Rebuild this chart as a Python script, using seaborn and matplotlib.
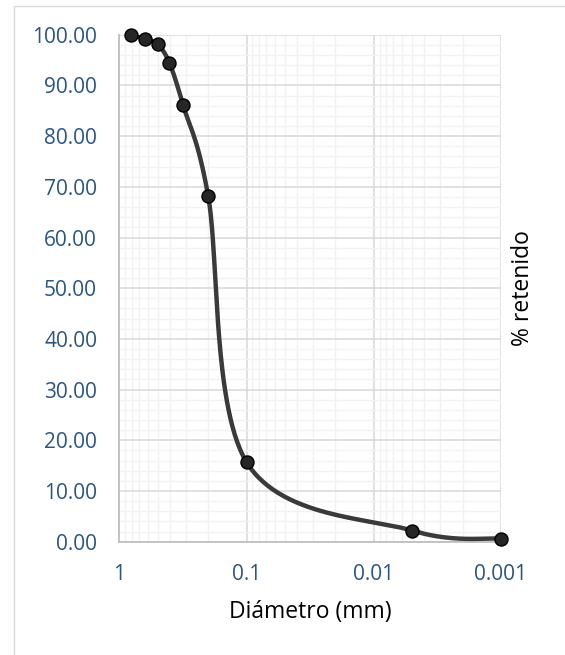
import numpy as np
import pandas as pd
import matplotlib
matplotlib.use("Agg")
import matplotlib.pyplot as plt
import matplotlib.ticker as mticker
from matplotlib.patches import Rectangle
import seaborn as sns

# ---- data ----
diametro = [0.805, 0.63, 0.5, 0.405, 0.315, 0.2, 0.1, 0.005, 0.001]
retenido = [100.0, 99.2, 98.1, 94.5, 86.1, 68.1, 15.7, 2.2, 0.6]
x_ticks = [1, 0.1, 0.01, 0.001]
x_ticklabels = ["1", "0.1", "0.01", "0.001"]
y_ticks = [0, 10, 20, 30, 40, 50, 60, 70, 80, 90, 100]
x_title = "Diámetro (mm)"
y_title = "% retenido"

df = pd.DataFrame({"d": diametro, "r": retenido})

sns.set_theme(style="white")
plt.rcParams["font.family"] = ["Open Sans", "DejaVu Sans"]

W, H = 565, 655
fig = plt.figure(figsize=(W / 100, H / 100), dpi=100)
fig.patch.set_facecolor("white")

# outer chart-area border
fig.patches.append(Rectangle((13.5 / W, -0.02), 1.2, (H - 5.5) / H + 0.02,
                             transform=fig.transFigure, fill=False,
                             edgecolor="#D9D9D9", linewidth=1.0, zorder=0))

left, right, top, bottom = 119.3, 501.0, 34.7, 541.7
ax = fig.add_axes([left / W, (H - bottom) / H, (right - left) / W, (bottom - top) / H])
ax.set_facecolor("white")
ax.set_xscale("log")
ax.set_xlim(1, 0.001)
ax.set_ylim(0, 100)

# grid
ax.xaxis.set_major_locator(mticker.FixedLocator(x_ticks))
ax.xaxis.set_major_formatter(mticker.FixedFormatter(x_ticklabels))
ax.xaxis.set_minor_locator(mticker.LogLocator(base=10, subs=np.arange(2, 10)))
ax.xaxis.set_minor_formatter(mticker.NullFormatter())
ax.yaxis.set_major_locator(mticker.FixedLocator(y_ticks))
ax.yaxis.set_major_formatter(mticker.FormatStrFormatter("%.2f"))
ax.yaxis.set_minor_locator(mticker.MultipleLocator(2))
ax.grid(which="major", color="#D9D9D9", linewidth=1.1)
ax.grid(which="minor", color="#F2F2F2", linewidth=1.0)
ax.set_axisbelow(True)

for s in ["top", "right"]:
    ax.spines[s].set_visible(False)
for s in ["left", "bottom"]:
    ax.spines[s].set_color("#BFBFBF")
    ax.spines[s].set_linewidth(1.3)

tick_color = "#2A5682"
ax.tick_params(axis="x", which="major", direction="out", length=6, width=1.2,
               color="#BFBFBF", labelsize=15, labelcolor=tick_color, pad=10)
ax.tick_params(axis="x", which="minor", length=0)
ax.tick_params(axis="y", which="both", length=0, labelsize=15,
               labelcolor=tick_color, pad=16)

# smoothed line (Excel-style Catmull-Rom in display space)
pts = ax.transData.transform(np.column_stack([df["d"], df["r"]]))
n = len(pts)
curve = []
for i in range(n - 1):
    p0 = pts[i - 1] if i > 0 else pts[i]
    p1 = pts[i]
    p2 = pts[i + 1]
    p3 = pts[i + 2] if i + 2 < n else pts[i + 1]
    c1 = p1 + (p2 - p0) / 6.0
    c2 = p2 - (p3 - p1) / 6.0
    t = np.linspace(0, 1, 60)[:, None]
    seg = ((1 - t) ** 3) * p1 + 3 * ((1 - t) ** 2) * t * c1 + 3 * (1 - t) * t ** 2 * c2 + t ** 3 * p2
    curve.append(seg if i == 0 else seg[1:])
curve = np.vstack(curve)
curve_data = ax.transData.inverted().transform(curve)
smooth = pd.DataFrame({"d": curve_data[:, 0], "r": curve_data[:, 1]})

sns.lineplot(data=smooth, x="d", y="r", sort=False, estimator=None, ax=ax,
             color="#3A3A3A", linewidth=3.2, zorder=3)
sns.scatterplot(data=df, x="d", y="r", ax=ax, s=88, color="#262626",
                edgecolor="#000000", linewidth=1.0, zorder=4, clip_on=False)

ax.set_xlim(1, 0.001)
ax.set_ylim(0, 100)

ax.set_xlabel(x_title, fontsize=16.5, color="#000000", va="center", ha="center")
ax.xaxis.set_label_coords(0.5, (bottom - 612.5) / (bottom - top))
ax.yaxis.set_label_position("right")
ax.set_ylabel(y_title, fontsize=16.5, color="#000000", rotation=90,
              va="center", ha="center")
ax.yaxis.set_label_coords((523 - left) / (right - left), 0.5)

fig.savefig("out.png", dpi=100, facecolor="white")
